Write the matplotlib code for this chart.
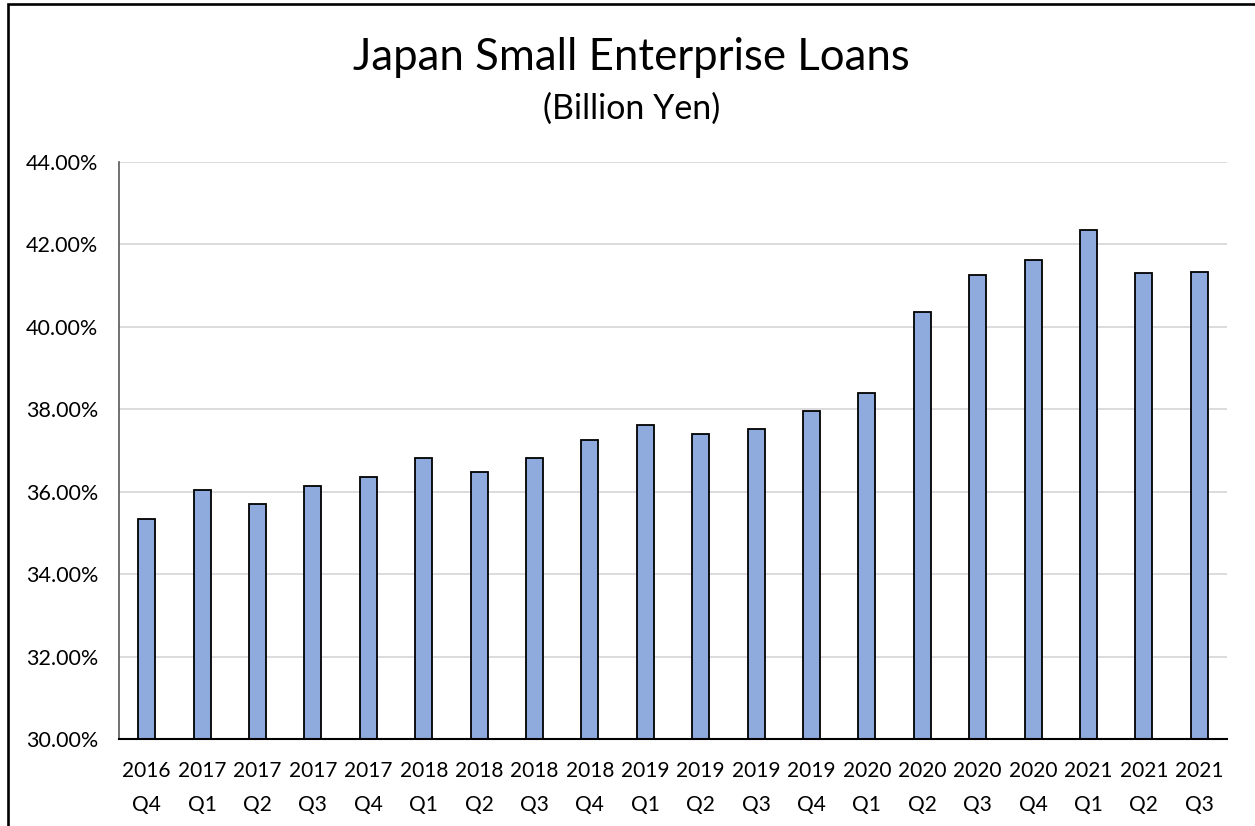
import matplotlib
matplotlib.use("Agg")
import matplotlib.pyplot as plt
from matplotlib.patches import Rectangle
from matplotlib.ticker import FuncFormatter, MultipleLocator

plt.rcParams['font.family'] = ['Lato', 'DejaVu Sans']

# Quarterly loan share data
years = ["2016", "2017", "2017", "2017", "2017", "2018", "2018", "2018", "2018",
         "2019", "2019", "2019", "2019", "2020", "2020", "2020", "2020",
         "2021", "2021", "2021"]
quarters = ["Q4", "Q1", "Q2", "Q3", "Q4", "Q1", "Q2", "Q3", "Q4",
            "Q1", "Q2", "Q3", "Q4", "Q1", "Q2", "Q3", "Q4",
            "Q1", "Q2", "Q3"]
values = [35.33, 36.05, 35.69, 36.14, 36.36, 36.81, 36.49, 36.81, 37.25,
          37.63, 37.39, 37.52, 37.95, 38.39, 40.35, 41.27, 41.63,
          42.34, 41.30, 41.33]

title = "Japan Small Enterprise Loans"
subtitle = "(Billion Yen)"

W, H = 1255, 826
fig = plt.figure(figsize=(W / 100, H / 100), dpi=100)

ax = fig.add_axes([119 / W, 1 - 739 / H, (1227 - 119) / W, (739 - 162) / H])

labels = [f"{y}\n{q}" for y, q in zip(years, quarters)]
x = list(range(len(values)))
ax.bar(x, values, width=0.31, color="#8faadc", edgecolor="black",
       linewidth=1.3, zorder=3)

ax.set_ylim(30, 44)
ax.set_xlim(-0.5, len(values) - 0.5)
ax.yaxis.set_major_locator(MultipleLocator(2))
ax.yaxis.set_major_formatter(FuncFormatter(lambda v, _: f"{v:.2f}%"))
ax.set_xticks(x)
ax.set_xticklabels(labels, fontsize=15, linespacing=1.85)
ax.tick_params(axis="y", labelsize=15.5, length=0, pad=15)
ax.tick_params(axis="x", length=0, pad=16)
ax.grid(axis="y", color="#d9d9d9", linewidth=1.3, zorder=0)

for side in ("top", "right"):
    ax.spines[side].set_visible(False)
ax.spines["left"].set_color("#595959")
ax.spines["left"].set_linewidth(1.2)
ax.spines["bottom"].set_color("black")
ax.spines["bottom"].set_linewidth(1.5)
ax.spines["bottom"].set_zorder(4)

fig.text(631 / W, 1 - 57 / H, title, ha="center", va="center", fontsize=31.5)
fig.text(632 / W, 1 - 109 / H, subtitle, ha="center", va="center", fontsize=24.5)

# Outer chart frame (right and bottom edges run past the canvas)
fig.patches.append(Rectangle((8 / W, -0.05), 1.05, 1.05 - 4 / H,
                             transform=fig.transFigure, fill=False,
                             edgecolor="black", linewidth=1.9))

fig.savefig("out.png", dpi=100)
